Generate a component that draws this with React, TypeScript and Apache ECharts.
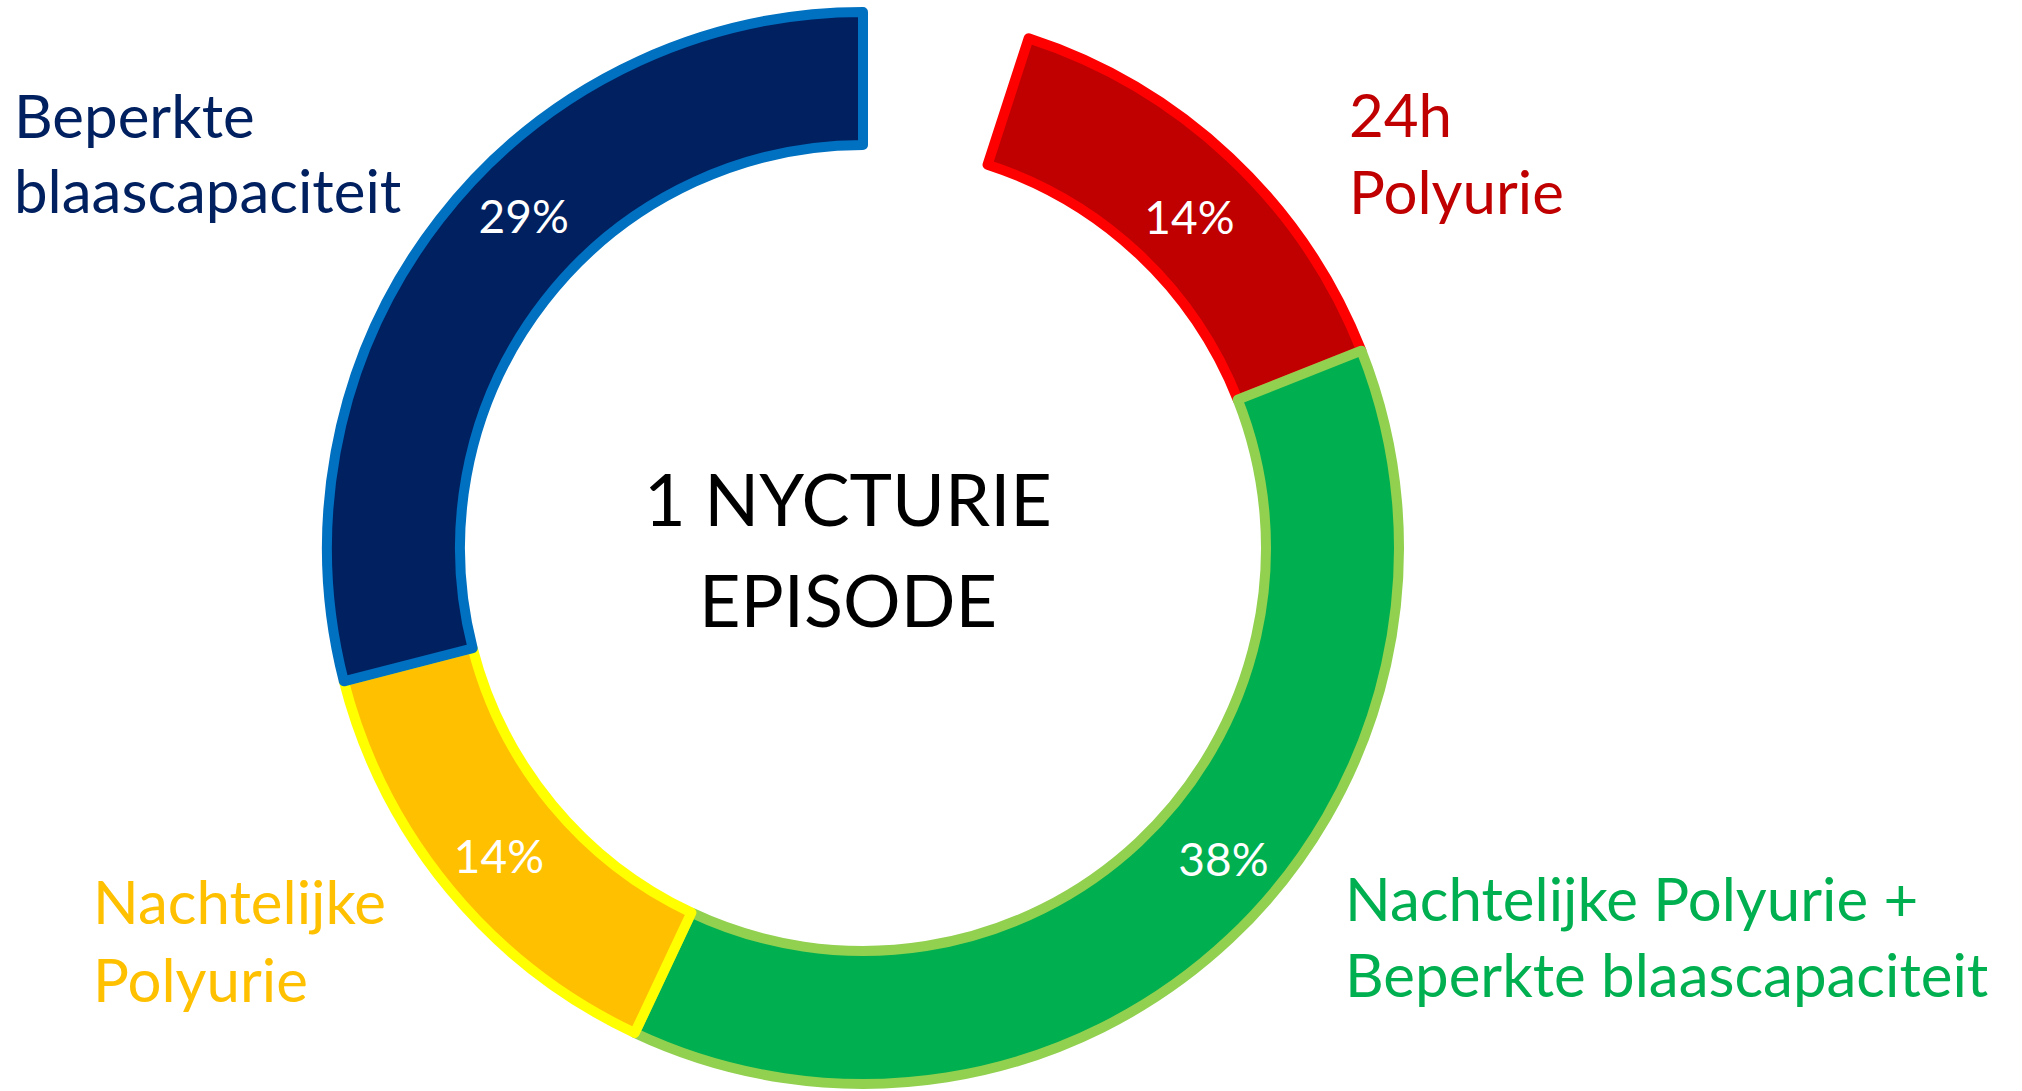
import React, { useEffect, useRef } from "react";
import * as echarts from "echarts";

// Slices in clockwise order starting at 12 o'clock (first one is an unlabeled, unfilled gap)
const categories = [
  "",
  "24h Polyurie",
  "Nachtelijke Polyurie + Beperkte blaascapaciteit",
  "Nachtelijke Polyurie",
  "Beperkte blaascapaciteit",
];
const values = [5, 14, 38, 14, 29];
const fillColors = ["transparent", "#C00000", "#00B050", "#FFC000", "#002060"];
const borderColors = ["transparent", "#FF0000", "#92D050", "#FFFF00", "#0070C0"];

// Outside labels (two lines each)
const outerLabelLines = [
  ["Beperkte", "blaascapaciteit"],
  ["24h", "Polyurie"],
  ["Nachtelijke", "Polyurie"],
  ["Nachtelijke Polyurie +", "Beperkte blaascapaciteit"],
];
const outerLabelColors = ["#002060", "#C00000", "#FFC000", "#00B050"];
const centerLines = ["1 NYCTURIE", "EPISODE"];

const FONT = "Lato, 'Open Sans', 'DejaVu Sans', sans-serif";

export default function App() {
  const ref = useRef<HTMLDivElement>(null);

  useEffect(() => {
    if (!ref.current) return;
    const chart = echarts.init(ref.current, undefined, { renderer: "svg" });

    const labelOffsets: Record<number, [number, number]> = {
      1: [3, 13],
      2: [37, -34],
      3: [0, 6],
      4: [34, -43],
    };

    const data = values.map((v, i) => ({
      name: categories[i] || "gap",
      value: v,
      itemStyle: {
        color: fillColors[i],
        borderColor: borderColors[i],
        borderWidth: i === 0 ? 0 : 10,
        borderJoin: "round" as const,
      },
      label: i === 0 ? { show: false } : { show: true, offset: labelOffsets[i] || [0, 0] },
    }));

    const F = 60;
    const mid = (baseline: number, size: number) => baseline - 0.387 * size;
    const outerPos = [
      { x: 14, b: [138, 213] },
      { x: 1349, b: [137, 214] },
      { x: 93, b: [924, 1002] },
      { x: 1345, b: [921, 997] },
    ];
    const graphics: any[] = [];
    outerLabelLines.forEach((lines, i) => {
      lines.forEach((t, j) => {
        graphics.push({
          type: "text",
          x: outerPos[i].x,
          y: mid(outerPos[i].b[j], F),
          silent: true,
          style: {
            text: t,
            fill: outerLabelColors[i],
            font: `${F}px ${FONT}`,
            align: "left",
            verticalAlign: "middle",
          },
        });
      });
    });
    const CF = 72;
    const centerBaselines = [526, 627];
    centerLines.forEach((t, j) => {
      graphics.push({
        type: "text",
        x: 848,
        y: mid(centerBaselines[j], CF),
        silent: true,
        style: {
          text: t,
          fill: "#000000",
          font: `${CF}px ${FONT}`,
          align: "center",
          verticalAlign: "middle",
        },
      });
    });

    chart.setOption({
      animation: false,
      backgroundColor: "#ffffff",
      graphic: graphics,
      series: [
        {
          type: "pie",
          center: [863, 548],
          radius: [403, 536],
          startAngle: 90,
          clockwise: true,
          avoidLabelOverlap: false,
          silent: true,
          label: {
            position: "inside",
            color: "#ffffff",
            fontFamily: FONT,
            fontSize: 46,
            formatter: (p: any) => `${p.value}%`,
          },
          labelLine: { show: false },
          emphasis: { disabled: true },
          data,
        },
      ],
    });

    return () => chart.dispose();
  }, []);

  return (
    <div
      ref={ref}
      style={{ position: "fixed", left: 0, top: 0, width: 2022, height: 1091, background: "#fff" }}
    />
  );
}
